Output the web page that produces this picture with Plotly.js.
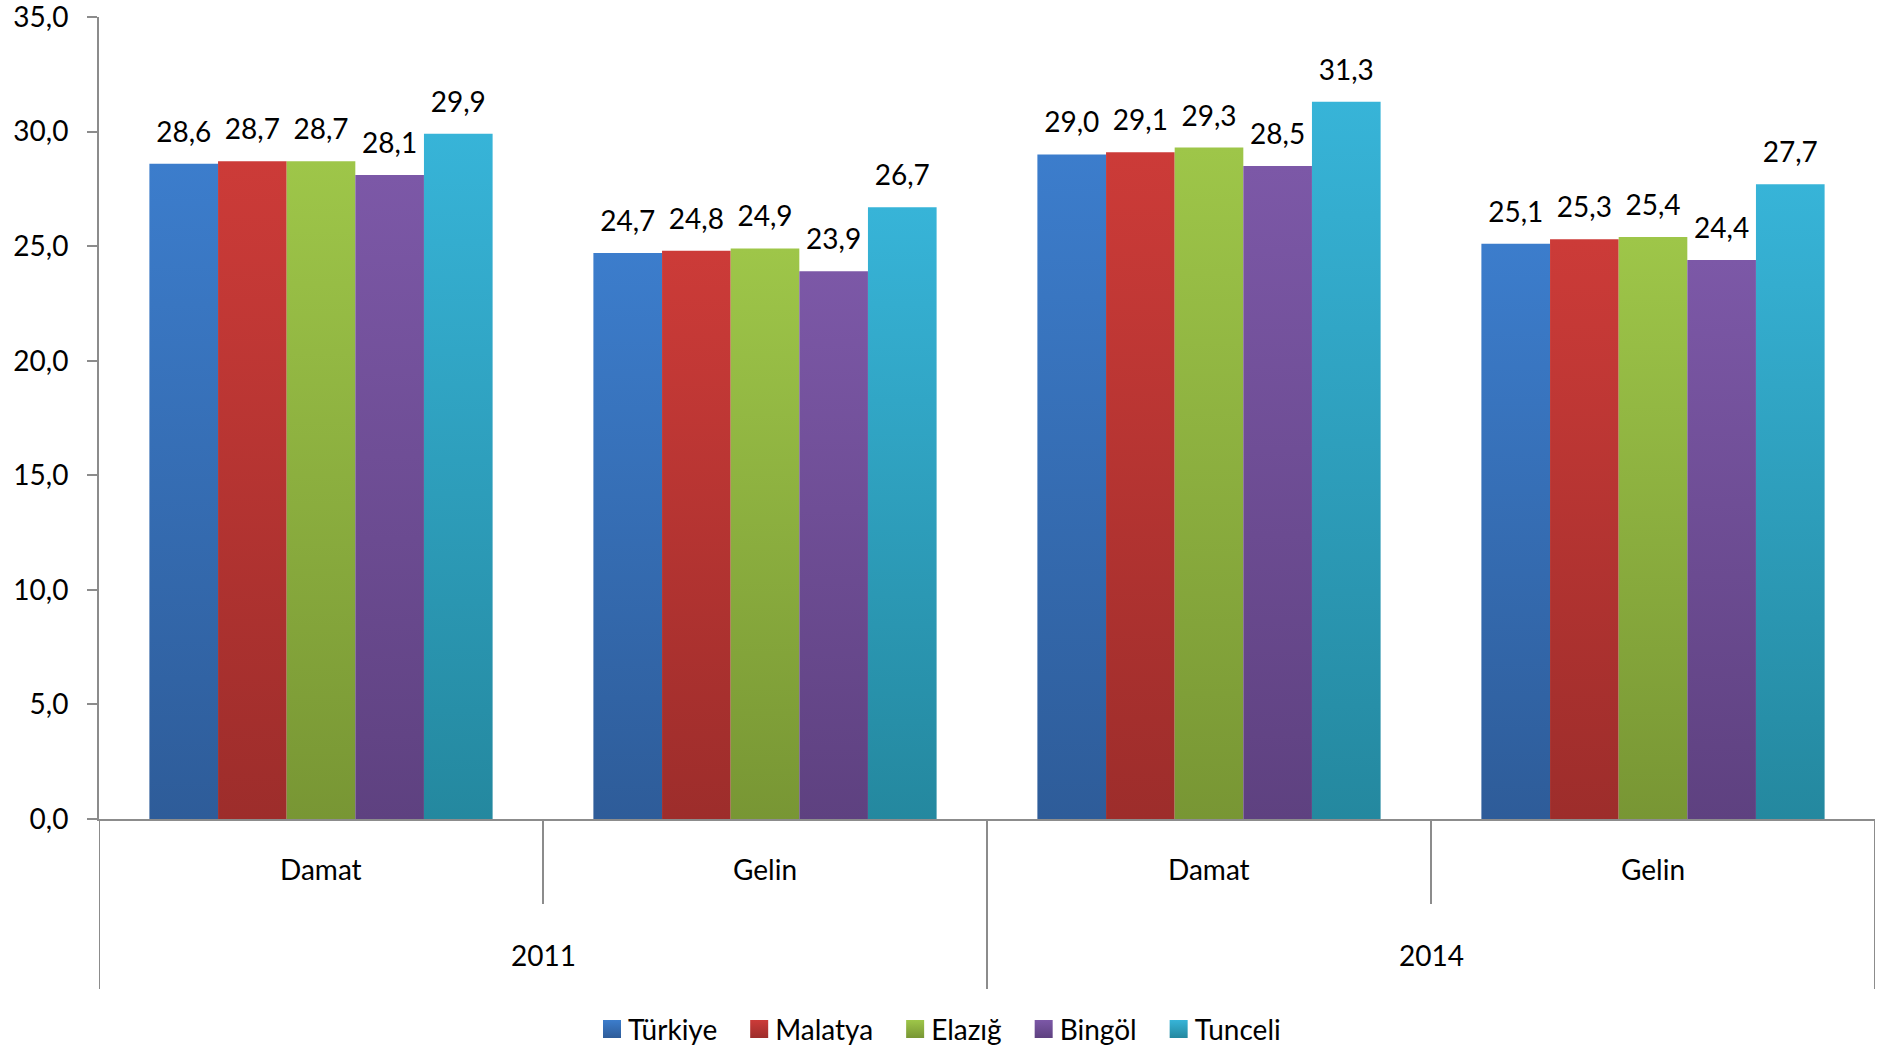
<!DOCTYPE html>
<html>
<head>
<meta charset="utf-8">
<script src="https://cdn.plot.ly/plotly-3.0.1.min.js"></script>
<style>
  html, body { margin: 0; padding: 0; background: #ffffff; }
  #chart { width: 1878px; height: 1050px; }
</style>
</head>
<body>
<div id="chart"></div>
<script>
// ---- data ----
const years = ["2011", "2011", "2014", "2014"];
const groups = ["Damat", "Gelin", "Damat", "Gelin"];
const yearLabels = ["2011", "2014"];
const seriesNames = ["Türkiye", "Malatya", "Elazığ", "Bingöl", "Tunceli"];
const turkiye = [28.6, 24.7, 29.0, 25.1];
const malatya = [28.7, 24.8, 29.1, 25.3];
const elazig  = [28.7, 24.9, 29.3, 25.4];
const bingol  = [28.1, 23.9, 28.5, 24.4];
const tunceli = [29.9, 26.7, 31.3, 27.7];
const yTickVals = [0, 5, 10, 15, 20, 25, 30, 35];

// ---- styles ----
const topColors    = ["#3C7DCC", "#CC3B38", "#9EC649", "#7C58A7", "#37B4D8"];
const bottomColors = ["#2E5C99", "#9D2D2B", "#789634", "#5E4180", "#24889F"];
const midColors    = ["#376EB6", "#B73533", "#8DB040", "#6F4F95", "#31A2C0"];
const FONT = "Lato, 'Open Sans', sans-serif";
const FS = 28;
const AXIS_GRAY = "#8C8C8C";

const allValues = [turkiye, malatya, elazig, bingol, tunceli];
const xIdx = groups.map((g, i) => i);

const traces = allValues.map((vals, k) => ({
  type: "bar",
  name: seriesNames[k],
  x: xIdx,
  y: vals,
  marker: { color: midColors[k], line: { width: 0 } },
  texttemplate: "%{y:.1f}",
  textposition: "outside",
  cliponaxis: false,
  textfont: { family: FONT, size: FS, color: "#000000" },
  hoverinfo: "skip"
}));

// plot area: x 99..1875, y 17..819
const plotH = 802;
const pY = px => -(px - 819) / plotH;

const annotations = [];
groups.forEach((g, i) => {
  annotations.push({
    x: i, xref: "x", y: pY(869), yref: "paper",
    text: g, showarrow: false, yanchor: "middle", xanchor: "center",
    font: { family: FONT, size: FS, color: "#000000" }
  });
});
yearLabels.forEach((yl, j) => {
  annotations.push({
    x: j * 2 + 0.5, xref: "x", y: pY(955), yref: "paper",
    text: yl, showarrow: false, yanchor: "middle", xanchor: "center",
    font: { family: FONT, size: FS, color: "#000000" }
  });
});

const shapes = [];
// inner dividers (between Damat / Gelin)
[0.5, 2.5].forEach(xv => shapes.push({
  type: "line", xref: "x", yref: "paper", x0: xv, x1: xv, y0: 0, y1: pY(904),
  line: { color: AXIS_GRAY, width: 2 }
}));
// outer dividers (year boundaries)
[-0.5, 1.5, 3.5].forEach(xv => shapes.push({
  type: "line", xref: "x", yref: "paper", x0: xv, x1: xv, y0: 0, y1: pY(989),
  line: { color: AXIS_GRAY, width: 2 }
}));

const layout = {
  width: 1878,
  height: 1050,
  margin: { l: 99, r: 3, t: 17, b: 231, autoexpand: false },
  paper_bgcolor: "#ffffff",
  plot_bgcolor: "#ffffff",
  separators: ",.",
  barmode: "group",
  bargap: 0.227,
  bargroupgap: 0,
  showlegend: true,
  font: { family: FONT, size: FS, color: "#000000" },
  xaxis: {
    range: [-0.5, 3.5],
    showticklabels: false,
    ticks: "",
    showgrid: false,
    zeroline: false,
    showline: true,
    linecolor: AXIS_GRAY,
    linewidth: 2,
    fixedrange: true
  },
  yaxis: {
    range: [0, 35.0001],
    tickvals: yTickVals,
    tickformat: ".1f",
    ticks: "outside",
    ticklen: 10,
    tickwidth: 2,
    tickcolor: AXIS_GRAY,
    ticklabelstandoff: 13,
    ticklabeloverflow: "allow",
    showgrid: false,
    zeroline: false,
    showline: true,
    linecolor: AXIS_GRAY,
    linewidth: 2,
    tickfont: { family: FONT, size: FS, color: "#000000" },
    fixedrange: true
  },
  // placed inside the plot first (so it does not push the margins), then moved below
  legend: {
    orientation: "h",
    x: 0.5,
    xanchor: "center",
    y: 0.5,
    yanchor: "middle",
    font: { family: FONT, size: FS, color: "#000000" },
    itemwidth: 30,
    tracegroupgap: 0,
    bgcolor: "rgba(0,0,0,0)"
  },
  annotations: annotations,
  shapes: shapes
};

const SVGNS = "http://www.w3.org/2000/svg";
const reTr = /translate\(\s*([-\d.e]+)[\s,]+([-\d.e]+)\s*\)/;

function applyGradients(gd) {
  const svg = gd.querySelector(".main-svg");
  let defs = svg.querySelector("defs");
  if (!defs) {
    defs = document.createElementNS(SVGNS, "defs");
    svg.insertBefore(defs, svg.firstChild);
  }
  topColors.forEach((tc, k) => {
    const lg = document.createElementNS(SVGNS, "linearGradient");
    lg.setAttribute("id", "barGrad" + k);
    lg.setAttribute("x1", "0"); lg.setAttribute("y1", "0");
    lg.setAttribute("x2", "0"); lg.setAttribute("y2", "1");
    const s1 = document.createElementNS(SVGNS, "stop");
    s1.setAttribute("offset", "0%"); s1.setAttribute("stop-color", tc);
    const s2 = document.createElementNS(SVGNS, "stop");
    s2.setAttribute("offset", "100%"); s2.setAttribute("stop-color", bottomColors[k]);
    lg.appendChild(s1); lg.appendChild(s2);
    defs.appendChild(lg);
  });
  gd.querySelectorAll(".barlayer .trace.bars").forEach((tr, k) => {
    tr.querySelectorAll(".point path").forEach(p => {
      p.style.fill = "url(#barGrad" + k + ")";
    });
    // lift the value labels a little, as in the reference
    tr.querySelectorAll("text.bartext").forEach(t => {
      const old = t.getAttribute("transform") || "";
      t.setAttribute("transform", "translate(0,-13) " + old);
    });
  });
}

function fixLegend(gd) {
  const legend = gd.querySelector("g.legend");
  if (!legend) return;
  const items = legend.querySelectorAll("g.traces");
  let cx = 0;
  items.forEach((it, k) => {
    it.querySelectorAll(".legendpoints path").forEach(p => {
      p.setAttribute("d", "M9,9H-9V-9H9Z");
      p.setAttribute("transform", "translate(9,0)");
      p.style.fill = "url(#barGrad" + k + ")";
    });
    const txt = it.querySelector("text.legendtext");
    txt.setAttribute("x", 25);
    const w = txt.getComputedTextLength();
    const m = reTr.exec(it.getAttribute("transform") || "");
    const ty = m ? parseFloat(m[2]) : 0;
    it.setAttribute("transform", "translate(" + cx + "," + ty + ")");
    cx += 25 + w + 33;
  });
  const first = items[0].querySelector(".legendpoints path").getBoundingClientRect();
  const lm = reTr.exec(legend.getAttribute("transform") || "");
  const lx = lm ? parseFloat(lm[1]) : 0;
  const ly = lm ? parseFloat(lm[2]) : 0;
  const dx = 603 - first.left;
  const dy = 1029 - (first.top + first.height / 2);
  legend.setAttribute("transform", "translate(" + (lx + dx) + "," + (ly + dy) + ")");
  legend.querySelectorAll("[clip-path]").forEach(el => el.removeAttribute("clip-path"));
}

Plotly.newPlot("chart", traces, layout, { displayModeBar: false, staticPlot: true })
  .then(gd => { applyGradients(gd); fixLegend(gd); });
</script>
</body>
</html>
